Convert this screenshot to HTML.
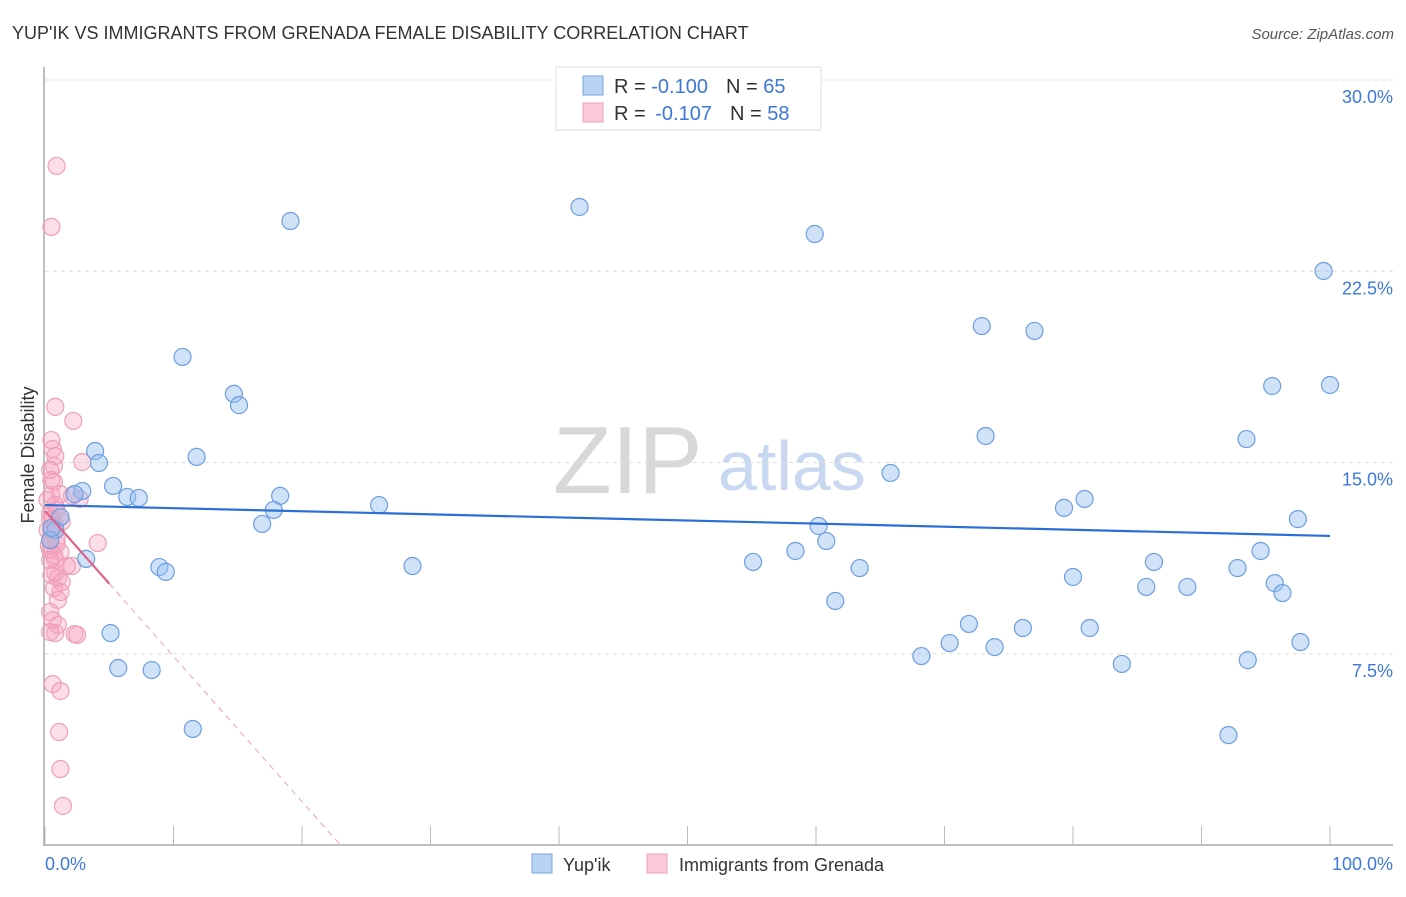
<!DOCTYPE html>
<html><head><meta charset="utf-8"><style>
body{margin:0;background:#fff;font-family:"Liberation Sans",sans-serif}
svg text{font-family:"Liberation Sans",sans-serif}
</style></head><body>
<svg id="chart" width="1406" height="892" viewBox="0 0 1406 892">
<text x="12" y="39" font-size="18" fill="#333">YUP'IK VS IMMIGRANTS FROM GRENADA FEMALE DISABILITY CORRELATION CHART</text>
<text x="1394" y="39" font-size="15" fill="#555" font-style="italic" text-anchor="end">Source: ZipAtlas.com</text>
<g>
<text x="553" y="493" font-size="96" font-family="Liberation Serif" fill="#d8d8d8">ZIP</text>
<text x="718" y="490" font-size="70" fill="#c8d8f0">atlas</text>
</g>
<g id="grid"></g><g id="axes"></g><g id="marks"></g>
<g>
<rect x="556" y="67" width="265" height="63" fill="#fff" stroke="#ddd"/>
<rect x="583" y="76" width="20" height="19" fill="#b9d3f5" stroke="#7aa6e0"/>
<text x="614" y="93" font-size="20" fill="#333">R = <tspan fill="#3d78d8">-0.100</tspan><tspan dx="18">N = </tspan><tspan fill="#3d78d8">65</tspan></text>
<rect x="583" y="103" width="20" height="19" fill="#f9c9d7" stroke="#eea0b8"/>
<text x="614" y="120" font-size="20" fill="#333">R = <tspan dx="4" fill="#3d78d8">-0.107</tspan><tspan dx="18">N = </tspan><tspan fill="#3d78d8">58</tspan></text>
</g>
<text transform="translate(34,455) rotate(-90)" font-size="18" fill="#333" text-anchor="middle">Female Disability</text>
<text x="45" y="870" font-size="18" fill="#3d78d8">0.0%</text>
<text x="1393" y="870" font-size="18" fill="#3d78d8" text-anchor="end">100.0%</text>
<g>
<rect x="532" y="854" width="20" height="19" fill="#b9d3f5" stroke="#7aa6e0"/>
<text x="563" y="871" font-size="18" fill="#333">Yup'ik</text>
<rect x="647" y="854" width="20" height="19" fill="#f9c9d7" stroke="#eea0b8"/>
<text x="679" y="871" font-size="18" fill="#333">Immigrants from Grenada</text>
</g>
</svg>
<script>
const yTicks=[7.5,15,22.5,30];
const yTickLabels=["7.5%","15.0%","22.5%","30.0%"];
const blueX=[19.1,41.6,59.9,99.5,10.7,72.9,77.0,14.7,15.1,95.5,100,73.2,93.5,3.9,11.8,4.2,65.8,5.3,2.9,2.3,6.4,7.3,18.3,17.8,26.0,79.3,80.9,16.9,97.5,60.2,60.8,1.2,0.8,3.2,58.4,55.1,94.6,86.3,28.6,8.9,9.4,63.4,92.8,80.0,85.7,88.9,95.7,96.3,61.5,5.1,71.9,76.1,81.3,70.4,73.9,97.7,68.2,93.6,83.8,5.7,8.3,11.5,92.1,0.4,0.5];
const blueY=[24.47,25.02,23.96,22.51,19.14,20.35,20.16,17.69,17.25,18.0,18.04,16.04,15.92,15.45,15.22,14.98,14.59,14.08,13.88,13.76,13.65,13.61,13.69,13.14,13.33,13.22,13.57,12.59,12.78,12.51,11.92,12.86,12.35,11.22,11.53,11.1,11.53,11.1,10.94,10.9,10.71,10.86,10.86,10.51,10.12,10.12,10.27,9.88,9.57,8.31,8.67,8.51,8.51,7.92,7.76,7.96,7.41,7.25,7.1,6.94,6.86,4.55,4.31,11.96,12.43];
const pinkX=[0.9,0.5,0.8,2.2,0.6,0.8,2.9,0.7,0.7,0.5,1.2,2.1,2.7,0.8,0.4,1.2,0.4,0.8,0.5,0.4,0.9,0.4,1.2,4.1,0.8,1.7,2.1,0.8,1.0,1.3,0.7,1.2,0.4,1.0,0.4,0.8,2.3,2.5,0.6,1.2,1.1,1.2,1.4,0.4,0.2,0.5,0.9,0.6,0.9,0.2,0.4,0.5,1.0,0.6,0.3,1.3,0.5,0.7];
const pinkY=[26.63,24.24,17.18,16.63,15.53,15.25,15.02,14.86,14.24,13.73,13.76,13.69,13.57,13.33,13.02,12.86,12.75,12.51,12.27,11.96,11.8,11.57,11.49,11.84,11.18,10.94,10.94,10.67,10.47,10.31,10.08,9.92,9.14,8.63,8.35,8.31,8.27,8.24,6.31,6.04,4.43,2.98,1.53,11.18,12.35,10.59,11.96,12.82,13.14,13.53,14.71,15.88,9.61,8.82,11.76,12.67,14.31,11.37];
const blueTrend=[13.33,12.12];
const pinkTrend=[13.1,-0.57];
const NS="http://www.w3.org/2000/svg";
const X=v=>45+v*12.85, Y=v=>845-v*25.5;
function mk(tag,attrs,parent){const e=document.createElementNS(NS,tag);for(const k in attrs)e.setAttribute(k,attrs[k]);parent.appendChild(e);return e;}
const grid=document.getElementById('grid'),axes=document.getElementById('axes'),marks=document.getElementById('marks');
yTicks.forEach((t,i)=>{
 const l=mk('line',{x1:45,x2:1393,y1:Y(t),y2:Y(t),stroke:'#ddd','stroke-dasharray':'4,4'},grid);
 
 
 const tx=mk('text',{x:1393,y:Y(t)+23,'font-size':18,fill:'#3d78d8','text-anchor':'end'},axes);
 tx.textContent=yTickLabels[i];
 
 
});
const ya=mk('line',{x1:44,x2:44,y1:67,y2:846,stroke:'#aaa','stroke-width':1.5},axes);


const xa=mk('line',{x1:44,x2:1393,y1:845,y2:845,stroke:'#aaa','stroke-width':1.5},axes);


for(let i=0;i<=10;i++){
 const t=mk('line',{x1:X(i*10),x2:X(i*10),y1:826,y2:845,stroke:'#bbb'},axes);
 
 
}
pinkX.forEach((x,i)=>{
 const c=mk('circle',{cx:X(x),cy:Y(pinkY[i]),r:8.5,fill:'rgba(245,160,190,0.35)',stroke:'#eea0b8','stroke-width':1.2},marks);
 
 
});
blueX.forEach((x,i)=>{
 const c=mk('circle',{cx:X(x),cy:Y(blueY[i]),r:8.5,fill:'rgba(150,190,240,0.45)',stroke:'#6c9ee0','stroke-width':1.2},marks);
 
 
});
const bt=mk('line',{x1:X(0),y1:Y(blueTrend[0]),x2:X(100),y2:Y(blueTrend[1]),stroke:'#2b6fd6','stroke-width':2.2},marks);


const pe=-pinkTrend[0]/pinkTrend[1];
const pd=mk('line',{x1:X(5),y1:Y(pinkTrend[0]+pinkTrend[1]*5),x2:X(pe),y2:Y(0),stroke:'#eea0b8','stroke-width':1,'stroke-dasharray':'6,5'},marks);


const ps=mk('line',{x1:X(0),y1:Y(pinkTrend[0]),x2:X(5),y2:Y(pinkTrend[0]+pinkTrend[1]*5),stroke:'#e0608a','stroke-width':2.2},marks);


</script>
</body></html>
